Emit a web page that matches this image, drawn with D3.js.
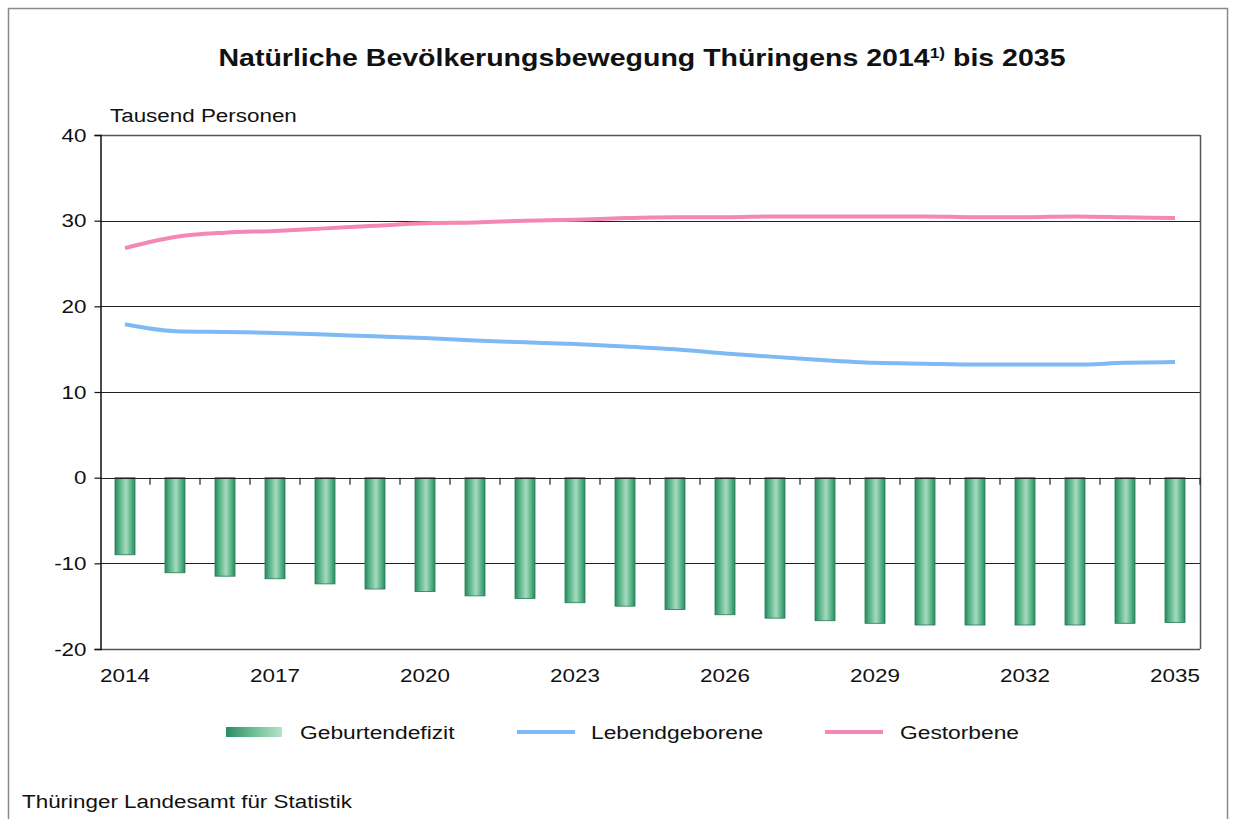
<!DOCTYPE html>
<html>
<head>
<meta charset="utf-8">
<script src="https://cdn.jsdelivr.net/npm/d3@7"></script>
<style>
  body { margin: 0; background: #fff; }
  text { font-family: 'Liberation Sans', Arial, sans-serif; fill: #111; }
</style>
</head>
<body>
<div id="chart"></div>
<script>
const years = d3.range(2014, 2036)
const geburtendefizit = [-9.0, -11.1, -11.5, -11.8, -12.4, -13.0, -13.3, -13.8, -14.1, -14.6, -15.0,
  -15.4, -16.0, -16.4, -16.7, -17.0, -17.2, -17.2, -17.2, -17.2, -17.0, -16.9]
const lebendgeborene = [17.9, 17.1, 17.0, 16.9, 16.7, 16.5, 16.3, 16.0, 15.8, 15.6, 15.3,
  15.0, 14.5, 14.1, 13.7, 13.4, 13.3, 13.2, 13.2, 13.2, 13.4, 13.5]
const gestorbene = [26.8, 28.1, 28.6, 28.8, 29.1, 29.4, 29.7, 29.8, 30.0, 30.1, 30.3,
  30.4, 30.4, 30.5, 30.5, 30.5, 30.5, 30.4, 30.4, 30.5, 30.4, 30.3]
const yTicks = [-20, -10, 0, 10, 20, 30, 40]
const xLabels = [2014, 2017, 2020, 2023, 2026, 2029, 2032, 2035]

const width = 1234
const height = 819
const margin = { top: 135, left: 100, right: 34, bottom: 170 }

// the source chart's lettering is wider than Arial, stretch it a bit
function stretch(sel, sx) {
  sel.each(function() {
    var t = d3.select(this)
    var tx = +t.attr('x') || 0
    t.attr('transform', `matrix(${sx},0,0,1,${tx * (1 - sx)},0)`)
  })
}

const svg = d3
  .select('#chart')
  .append('svg')
  .attr('width', width)
  .attr('height', height)

// outer frame
svg.append('rect')
  .attr('x', 8.5).attr('y', 8.5)
  .attr('width', 1219).attr('height', 840)
  .attr('fill', 'none')
  .attr('stroke', '#8a8a8a')
  .attr('stroke-width', 1.5)

var x = d3
  .scaleBand()
  .domain(years)
  .range([margin.left, width - margin.right])

var y = d3
  .scaleLinear()
  .domain([-20, 40])
  .range([height - margin.bottom, margin.top])

var defs = svg.append('defs')
var grad = defs.append('linearGradient')
  .attr('id', 'bargrad')
  .attr('x1', '0%').attr('x2', '100%').attr('y1', '0%').attr('y2', '0%')
grad.append('stop').attr('offset', '0%').attr('stop-color', '#288a5f')
grad.append('stop').attr('offset', '25%').attr('stop-color', '#5cb68b')
grad.append('stop').attr('offset', '55%').attr('stop-color', '#a6dbbf')
grad.append('stop').attr('offset', '80%').attr('stop-color', '#5ab489')
grad.append('stop').attr('offset', '100%').attr('stop-color', '#288a5f')

var legGrad = defs.append('linearGradient')
  .attr('id', 'leggrad')
  .attr('x1', '0%').attr('x2', '100%').attr('y1', '0%').attr('y2', '0%')
legGrad.append('stop').attr('offset', '0%').attr('stop-color', '#2b8c62')
legGrad.append('stop').attr('offset', '60%').attr('stop-color', '#7cc7a0')
legGrad.append('stop').attr('offset', '100%').attr('stop-color', '#b5e2ca')

// gridlines
svg.append('g')
  .selectAll('line')
  .data(yTicks)
  .enter()
  .append('line')
  .attr('x1', margin.left)
  .attr('x2', width - margin.right)
  .attr('y1', d => Math.round(y(d)) + 0.5)
  .attr('y2', d => Math.round(y(d)) + 0.5)
  .attr('stroke', d => (d === 40 || d === -20) ? '#555' : '#222')
  .attr('stroke-width', d => (d === 40 || d === -20) ? 1.5 : 1.2)

// right border
svg.append('line')
  .attr('x1', width - margin.right + 0.5).attr('x2', width - margin.right + 0.5)
  .attr('y1', y(40)).attr('y2', y(-20))
  .attr('stroke', '#555').attr('stroke-width', 1.5)

// y axis
var yAxis = d3.axisLeft(y)
  .tickValues(yTicks)
  .tickSize(6)
  .tickPadding(8)
  .tickFormat(d => String(d))
var gy = svg.append('g')
  .attr('transform', `translate(${margin.left + 0.5},0)`)
  .call(yAxis)
gy.select('.domain').attr('stroke', '#111').attr('stroke-width', 1.5)
gy.selectAll('.tick line').attr('stroke', '#111').attr('stroke-width', 1.2)
gy.selectAll('.tick text')
  .attr('font-size', 19)
  .style('font-family', "'Liberation Sans', Arial, sans-serif")
  .attr('fill', '#111')
  .call(stretch, 1.18)

// bars
var barW = x.bandwidth() * 0.4
svg.append('g')
  .selectAll('rect')
  .data(years)
  .enter()
  .append('rect')
  .attr('x', (d) => x(d) + (x.bandwidth() - barW) / 2)
  .attr('y', y(0))
  .attr('width', barW)
  .attr('height', (d, i) => y(geburtendefizit[i]) - y(0))
  .attr('fill', 'url(#bargrad)')
  .attr('stroke', '#2a7a56')
  .attr('stroke-width', 0.8)

// zero line on top of bars + ticks between categories
svg.append('line')
  .attr('x1', margin.left).attr('x2', width - margin.right)
  .attr('y1', Math.round(y(0)) + 0.5).attr('y2', Math.round(y(0)) + 0.5)
  .attr('stroke', '#222').attr('stroke-width', 1.2)

svg.append('g')
  .selectAll('line')
  .data(years.slice(1).concat([2036]))
  .enter()
  .append('line')
  .attr('x1', d => d === 2036 ? width - margin.right : x(d))
  .attr('x2', d => d === 2036 ? width - margin.right : x(d))
  .attr('y1', y(0))
  .attr('y2', y(0) + 7)
  .attr('stroke', '#222')
  .attr('stroke-width', 1.2)

// x labels
svg.append('g')
  .selectAll('text')
  .data(xLabels)
  .enter()
  .append('text')
  .attr('x', d => x(d) + x.bandwidth() / 2)
  .attr('y', y(-20) + 33)
  .attr('text-anchor', 'middle')
  .attr('font-size', 19)
  .text(d => d)
  .call(stretch, 1.18)

// lines
var line = d3.line()
  .x((d, i) => x(years[i]) + x.bandwidth() / 2)
  .y(d => y(d))
  .curve(d3.curveMonotoneX)

svg.append('path')
  .datum(gestorbene)
  .attr('d', line)
  .attr('fill', 'none')
  .attr('stroke', '#f487b4')
  .attr('stroke-width', 4)

svg.append('path')
  .datum(lebendgeborene)
  .attr('d', line)
  .attr('fill', 'none')
  .attr('stroke', '#7dbaf5')
  .attr('stroke-width', 4)

// title
var title = svg.append('text')
  .attr('x', 642)
  .attr('y', 66)
  .attr('text-anchor', 'middle')
  .attr('font-size', 23)
  .attr('font-weight', 'bold')
title.append('tspan').text('Natürliche Bevölkerungsbewegung Thüringens 2014')
title.append('tspan').attr('font-size', 14).attr('dy', -8).text('1)')
title.append('tspan').attr('dy', 8).text(' bis 2035')
title.call(stretch, 1.24)

svg.append('text')
  .attr('x', 110)
  .attr('y', 122)
  .attr('font-size', 19)
  .text('Tausend  Personen')
  .call(stretch, 1.18)

// legend
var legend = svg.append('g').attr('transform', 'translate(0,732)')
legend.append('rect')
  .attr('x', 226).attr('y', -5).attr('width', 56).attr('height', 10)
  .attr('fill', 'url(#leggrad)')
legend.append('line')
  .attr('x1', 517).attr('x2', 575).attr('y1', 0).attr('y2', 0)
  .attr('stroke', '#7dbaf5').attr('stroke-width', 4)
legend.append('line')
  .attr('x1', 825).attr('x2', 883).attr('y1', 0).attr('y2', 0)
  .attr('stroke', '#f487b4').attr('stroke-width', 4)
legend.append('text').attr('x', 300).attr('y', 7).attr('font-size', 19).text('Geburtendefizit')
legend.append('text').attr('x', 591).attr('y', 7).attr('font-size', 19).text('Lebendgeborene')
legend.append('text').attr('x', 900).attr('y', 7).attr('font-size', 19).text('Gestorbene')
legend.selectAll('text').call(stretch, 1.2)

svg.append('text')
  .attr('x', 22)
  .attr('y', 808)
  .attr('font-size', 19)
  .text('Thüringer Landesamt  für Statistik')
  .call(stretch, 1.18)
</script>
</body>
</html>
